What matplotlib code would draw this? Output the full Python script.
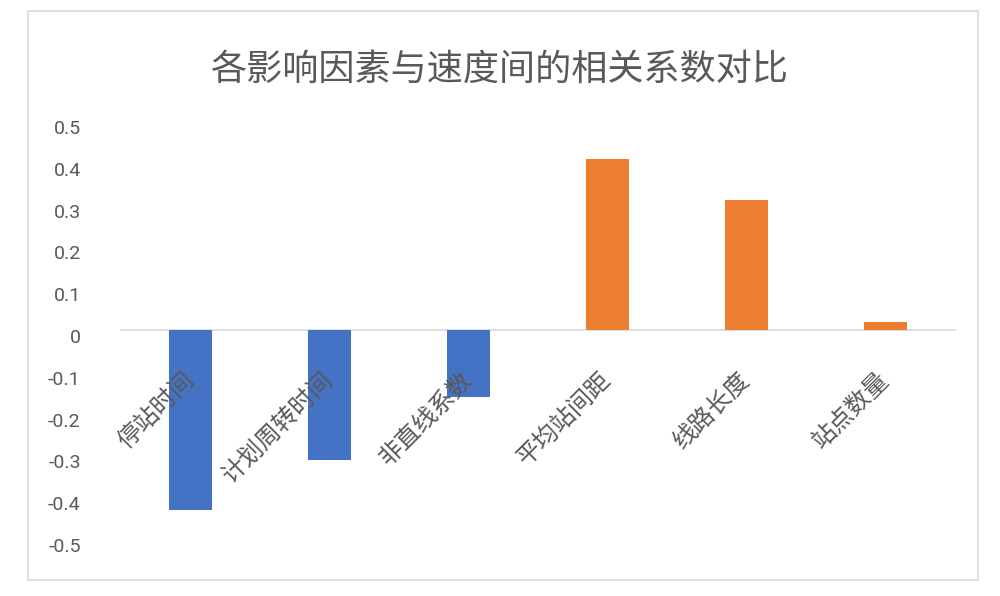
import matplotlib.pyplot as plt
import matplotlib.transforms as mtransforms
from matplotlib.patches import Rectangle

plt.rcParams['font.family'] = ['Noto Sans CJK SC', 'DejaVu Sans']

categories = ['停站时间', '计划周转时间', '非直线系数', '平均站间距', '线路长度', '站点数量']
values = [-0.43, -0.31, -0.16, 0.41, 0.31, 0.02]
yticks = [0.5, 0.4, 0.3, 0.2, 0.1, 0, -0.1, -0.2, -0.3, -0.4, -0.5]
ytick_labels = ['0.5', '0.4', '0.3', '0.2', '0.1', '0', '-0.1', '-0.2', '-0.3', '-0.4', '-0.5']

blue = '#4472C4'
orange = '#ED7D31'
text_gray = '#595959'

fig = plt.figure(figsize=(10, 5.96), dpi=100)
fig.patches.append(Rectangle((28 / 1000, 1 - 580 / 596), 950 / 1000, 569 / 596,
                             transform=fig.transFigure, fill=False,
                             edgecolor='#d9d9d9', linewidth=1.2))

ax = fig.add_axes([0.121, 0.0956, 0.834, 0.7014])

x = list(range(len(categories)))
colors = [blue if v < 0 else orange for v in values]
ax.bar(x, values, width=0.31, color=colors, zorder=2)

ax.set_xlim(-0.5, len(categories) - 0.5)
ax.set_ylim(-0.5, 0.5)

# labels must sit on top of the bars, like in the original
ax.set_axisbelow(False)

for s in ['left', 'right', 'top']:
    ax.spines[s].set_visible(False)
ax.spines['bottom'].set_position(('data', 0))
ax.spines['bottom'].set_color('#d9d9d9')
ax.spines['bottom'].set_linewidth(1.2)
ax.spines['bottom'].set_zorder(1)

ax.set_yticks(yticks)
ax.set_yticklabels(ytick_labels, fontsize=14, color=text_gray, family=['Roboto', 'DejaVu Sans'])
ax.tick_params(axis='y', length=0, pad=29)
offset = mtransforms.ScaledTranslation(0, -6 / 100, fig.dpi_scale_trans)
for lab in ax.get_yticklabels():
    lab.set_transform(lab.get_transform() + offset)

ax.set_xticks(x)
ax.set_xticklabels(categories, fontsize=17.5, color=text_gray, rotation=45,
                   ha='right', va='center', rotation_mode='anchor')
ax.tick_params(axis='x', length=0, pad=33)

fig.text(0.5, 1 - 70 / 596, '各影响因素与速度间的相关系数对比', fontsize=26,
         color=text_gray, ha='center', va='center')

fig.savefig('out.png', dpi=100, facecolor='white')
